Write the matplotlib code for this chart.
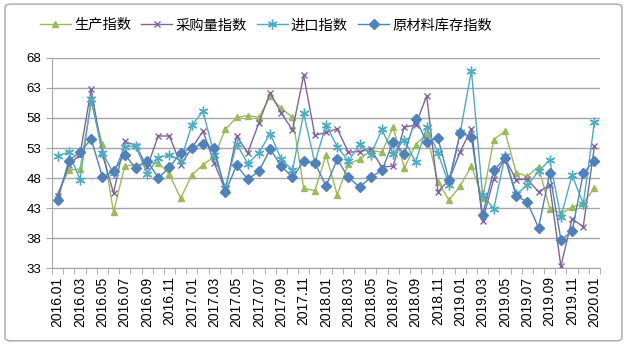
import matplotlib
matplotlib.use("Agg")
import matplotlib.pyplot as plt
from matplotlib.patches import FancyBboxPatch

plt.rcParams['font.family'] = ['Liberation Sans', 'Noto Sans CJK SC', 'DejaVu Sans']

# months 2016.01 .. 2020.01
months = [f"{2016 + i // 12}.{i % 12 + 1:02d}" for i in range(49)]

production = [45.4, 49.3, 49.5, 60.6, 53.6, 42.3, 50.0, 50.2, 50.5, 50.5,
              48.6, 44.6, 48.5, 50.2, 51.6, 56.1, 58.1, 58.4, 58.1, 61.6,
              59.6, 58.1, 46.3, 45.9, 51.8, 45.2, 50.4, 51.1, 52.6, 52.3,
              56.5, 49.7, 53.5, 55.4, 47.4, 44.3, 46.7, 50.0, 44.6, 54.4,
              55.8, 48.9, 48.3, 49.9, 42.9, 42.1, 43.1, 43.8, 46.4]
purchase = [45.0, 50.2, 51.9, 62.8, 52.0, 45.5, 54.1, 53.4, 49.8, 55.0,
            55.0, 50.2, 53.0, 55.8, 50.5, 46.0, 55.0, 52.2, 57.2, 62.2,
            58.8, 56.0, 65.1, 55.1, 55.6, 56.2, 52.3, 52.4, 52.8, 49.8,
            50.0, 56.5, 56.8, 61.7, 45.7, 47.7, 52.4, 56.2, 40.9, 47.9,
            51.3, 47.7, 47.8, 45.7, 46.8, 33.3, 41.2, 39.9, 53.3]
imports = [51.7, 52.3, 47.7, 61.1, 52.2, 48.8, 53.2, 53.3, 48.7, 51.4,
           51.9, 50.9, 56.8, 59.1, 51.9, 46.3, 53.7, 50.4, 52.2, 55.4,
           51.1, 49.3, 58.8, 50.5, 56.9, 53.2, 50.8, 53.6, 51.9, 56.1,
           52.0, 54.4, 50.6, 56.5, 52.2, 46.9, 55.6, 65.9, 45.1, 42.9,
           51.6, 45.3, 46.8, 49.1, 51.0, 41.5, 48.5, 43.7, 57.3]
inventory = [44.3, 50.9, 52.3, 54.5, 48.2, 49.1, 51.9, 49.6, 50.9, 48.0,
             49.8, 52.2, 53.0, 53.7, 53.0, 45.7, 50.1, 47.8, 49.1, 52.8,
             50.0, 48.1, 50.8, 50.5, 46.7, 51.1, 48.1, 46.5, 48.1, 49.3,
             54.0, 52.0, 57.9, 54.0, 54.7, 47.6, 55.5, 54.9, 41.9, 49.3,
             51.3, 45.0, 44.0, 39.7, 48.8, 37.7, 39.1, 48.8, 50.9]

fig = plt.figure(figsize=(6.27, 3.45), dpi=100)
ax = fig.add_axes([0.083, 0.223, 0.874, 0.609])

x = list(range(len(months)))
ax.plot(x, production, color='#9BBB59', lw=1, marker='^', ms=4, label='生产指数')
ax.plot(x, purchase, color='#8064A2', lw=1, marker='x', ms=4, mew=1, label='采购量指数')
ax.plot(x, imports, color='#4BACC6', lw=1, marker=(6, 2, 0), ms=7, mew=1, label='进口指数')
ax.plot(x, inventory, color='#4F81BD', lw=1, marker='D', ms=5, label='原材料库存指数')

ax.set_ylim(33, 68)
ax.set_yticks(range(33, 69, 5))
ax.set_xlim(-0.5, len(months) - 0.5)
ax.set_xticks(x[::2])
ax.set_xticklabels(months[::2], rotation=90, fontsize=10)
ax.set_xticks([i - 0.5 for i in range(len(months) + 1)], minor=True)
ax.tick_params(axis='x', which='major', length=0, pad=6)
ax.tick_params(axis='x', which='minor', length=4, color='#A6A6A6')
ax.tick_params(axis='y', length=4, color='#A6A6A6', labelsize=9.5)
ax.yaxis.grid(True, color='#A6A6A6', lw=1)
ax.set_axisbelow(True)
for s in ['top', 'right']:
    ax.spines[s].set_visible(False)
for s in ['left', 'bottom']:
    ax.spines[s].set_color('#A6A6A6')

ax.legend(loc='lower center', bbox_to_anchor=(0.39, 1.06), ncol=4, frameon=False,
          fontsize=10.3, handlelength=2.2, columnspacing=0.7, handletextpad=0.2)

fig.patches.append(FancyBboxPatch((0.008, 0.012), 0.984, 0.976,
                                  boxstyle='round,pad=0,rounding_size=0.01',
                                  transform=fig.transFigure, fill=False,
                                  edgecolor='#A6A6A6', lw=1))

fig.savefig('out.png', dpi=100)
